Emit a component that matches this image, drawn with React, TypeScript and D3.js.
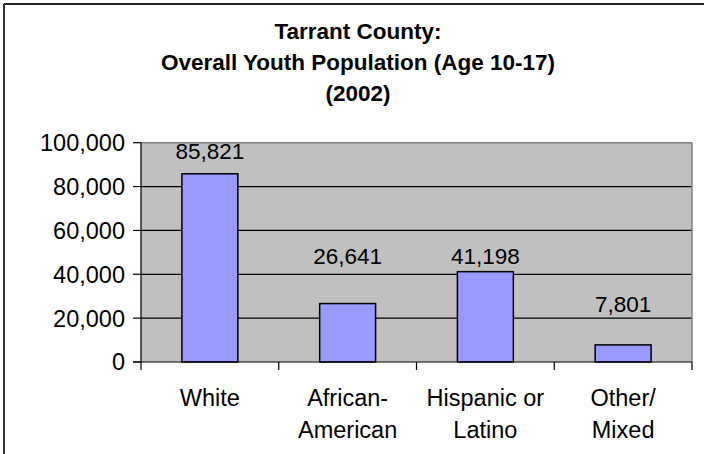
import React from "react";
import * as d3 from "d3";

const categories: string[][] = [["White"], ["African-", "American"], ["Hispanic or", "Latino"], ["Other/", "Mixed"]];
const values: number[] = [85821, 26641, 41198, 7801];
const labelLevels: number[] = [92500, 44600, 44600, 22800];
const yTicks: number[] = [0, 20000, 40000, 60000, 80000, 100000];
const titleLines: string[] = ["Tarrant County:", "Overall Youth Population (Age 10-17)", "(2002)"];

const W = 704;
const H = 454;
const plot = { left: 141, right: 692, top: 142.7, bottom: 362 };
const FONT = "'Liberation Sans', Arial, sans-serif";

export default function App() {
  const x = d3
    .scaleBand<number>()
    .domain(values.map((_, i) => i))
    .range([plot.left, plot.right])
    .paddingInner(0.594)
    .paddingOuter(0.297);
  const y = d3.scaleLinear().domain([0, 100000]).range([plot.bottom, plot.top]);
  const fmt = d3.format(",");
  const step = x.step();
  const x0 = plot.left;

  return (
    <div style={{ position: "absolute", left: 0, top: 0 }}>
      <svg width={W} height={H} style={{ display: "block" }}>
        <rect x={0} y={0} width={W} height={H} fill="#fff" />
        <line x1={4} x2={W} y1={4} y2={4} stroke="#222" strokeWidth={2} />
        <line x1={4} x2={4} y1={4} y2={H} stroke="#333" strokeWidth={2} />

        {titleLines.map((t, i) => (
          <text key={t} x={358} y={39 + i * 31} textAnchor="middle" fontFamily={FONT} fontWeight="bold" fontSize={22.5} fill="#000">
            {t}
          </text>
        ))}

        <rect x={plot.left} y={plot.top} width={plot.right - plot.left} height={plot.bottom - plot.top} fill="#C0C0C0" />
        {yTicks.filter((t) => t > 0 && t < 100000).map((t) => (
          <line key={t} x1={plot.left} x2={plot.right} y1={y(t)} y2={y(t)} stroke="#000" strokeWidth={1.2} />
        ))}
        <line x1={plot.left} x2={plot.right} y1={plot.top} y2={plot.top} stroke="#808080" strokeWidth={1.5} />
        <line x1={plot.right} x2={plot.right} y1={plot.top} y2={plot.bottom} stroke="#808080" strokeWidth={1.5} />

        {values.map((v, i) => (
          <rect
            key={i}
            x={x(i)!}
            y={y(v)}
            width={x.bandwidth()}
            height={y(0) - y(v)}
            fill="#9999FF"
            stroke="#000"
            strokeWidth={1.5}
          />
        ))}

        <line x1={plot.left} x2={plot.left} y1={plot.top} y2={plot.bottom + 8} stroke="#000" strokeWidth={1.2} />
        <line x1={plot.left - 8} x2={plot.right} y1={plot.bottom} y2={plot.bottom} stroke="#000" strokeWidth={1.2} />
        {yTicks.map((t) => (
          <g key={t}>
            <line x1={plot.left - 8} x2={plot.left} y1={y(t)} y2={y(t)} stroke="#000" strokeWidth={1.2} />
            <text x={125} y={y(t)} dy="0.36em" textAnchor="end" fontFamily={FONT} fontSize={23.5} fill="#000">
              {fmt(t)}
            </text>
          </g>
        ))}
        {values.map((_, i) => (
          <line key={i} x1={x0 + step * (i + 1)} x2={x0 + step * (i + 1)} y1={plot.bottom} y2={plot.bottom + 8} stroke="#000" strokeWidth={1.2} />
        ))}

        {values.map((v, i) => (
          <text key={i} x={x(i)! + x.bandwidth() / 2} y={y(labelLevels[i])} textAnchor="middle" fontFamily={FONT} fontSize={22.5} fill="#000">
            {fmt(v)}
          </text>
        ))}

        {categories.map((lines, i) => (
          <text key={i} textAnchor="middle" fontFamily={FONT} fontSize={23.5} fill="#000">
            {lines.map((l, j) => (
              <tspan key={j} x={x(i)! + x.bandwidth() / 2} y={406 + j * 32}>
                {l}
              </tspan>
            ))}
          </text>
        ))}
      </svg>
    </div>
  );
}
